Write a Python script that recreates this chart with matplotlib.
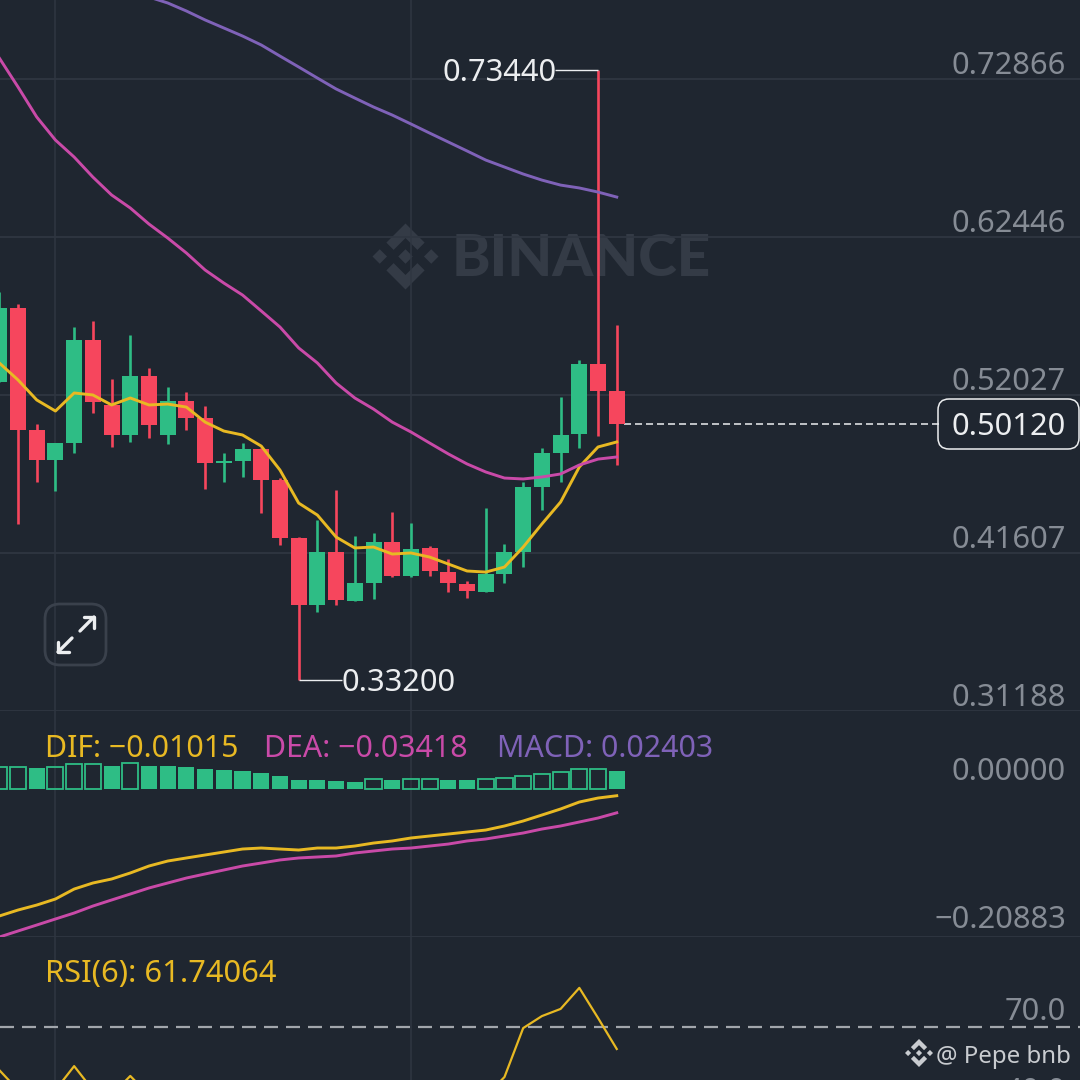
import numpy as np
import matplotlib
matplotlib.use('Agg')
import matplotlib.pyplot as plt
from matplotlib.patches import Polygon, FancyBboxPatch
from matplotlib.transforms import Affine2D

# Candles, oldest first
opens = [0.5288, 0.5776, 0.4972, 0.4774, 0.4886, 0.5565, 0.5137, 0.4939, 0.5328, 0.4939, 0.5163, 0.5051, 0.4754, 0.4767,
         0.4846, 0.4642, 0.4260, 0.3818, 0.4167, 0.3844, 0.3963, 0.4233, 0.4009, 0.4193, 0.4035, 0.3956, 0.3903, 0.4022,
         0.4167, 0.4596, 0.4820, 0.4945, 0.5407, 0.5229]
closes = [0.5776, 0.4972, 0.4774, 0.4886, 0.5565, 0.5156, 0.4939, 0.5328, 0.5005, 0.5163, 0.5051, 0.4754, 0.4767, 0.4846,
          0.4642, 0.4260, 0.3818, 0.4167, 0.3851, 0.3963, 0.4233, 0.4009, 0.4187, 0.4042, 0.3963, 0.3910, 0.4022, 0.4167,
          0.4596, 0.4820, 0.4939, 0.5407, 0.5229, 0.5012]
highs = [0.5882, 0.5803, 0.5012, 0.4886, 0.5651, 0.5691, 0.5308, 0.5598, 0.5381, 0.5255, 0.5222, 0.5130, 0.4820,
         0.4886, 0.4853, 0.4655, 0.4266, 0.4378, 0.4576, 0.4273, 0.4292, 0.4431, 0.4358, 0.4207, 0.4121, 0.3976,
         0.4457, 0.4220, 0.4629, 0.4853, 0.5189, 0.5433, 0.7344, 0.5663]
lows = [0.5288, 0.4352, 0.4629, 0.4570, 0.4820, 0.5084, 0.4860, 0.4893, 0.4919, 0.4879, 0.4972, 0.4583, 0.4629, 0.4662,
        0.4424, 0.4213, 0.3320, 0.3771, 0.3818, 0.3844, 0.3857, 0.4002, 0.4002, 0.4009, 0.3903, 0.3864, 0.3903, 0.3963,
        0.4068, 0.4444, 0.4629, 0.4853, 0.4932, 0.4741]

# Moving averages
ma7 = [0.5414, 0.5302, 0.5170, 0.5097, 0.5216, 0.5203, 0.5137, 0.5183, 0.5137, 0.5143, 0.5123, 0.5024, 0.4965, 0.4939,
       0.4866, 0.4708, 0.4490, 0.4411, 0.4266, 0.4194, 0.4200, 0.4154, 0.4161, 0.4134, 0.4088, 0.4042, 0.4035, 0.4068,
       0.4200, 0.4352, 0.4497, 0.4728, 0.4860, 0.4893]
ma25 = [0.7425, 0.7234, 0.7036, 0.6884, 0.6772, 0.6640, 0.6522, 0.6436, 0.6330, 0.6238, 0.6139, 0.6027, 0.5941, 0.5862,
        0.5757, 0.5651, 0.5513, 0.5414, 0.5282, 0.5183, 0.5110, 0.5024, 0.4959, 0.4886, 0.4814, 0.4748, 0.4695, 0.4655,
        0.4649, 0.4662, 0.4682, 0.4741, 0.4780, 0.4794]
ma99 = [0.7827, 0.7788, 0.7735, 0.7676, 0.7623, 0.7570, 0.7511, 0.7438, 0.7366, 0.7293, 0.7221, 0.7161, 0.7102, 0.7049,
        0.6990, 0.6930, 0.6871, 0.6812, 0.6752, 0.6706, 0.6660, 0.6620, 0.6587, 0.6568, 0.6541, 0.6508]

# MACD pane
hist = [0.0296, 0.0296, 0.0282, 0.0296, 0.0343, 0.0343, 0.0320, 0.0353, 0.0320, 0.0320, 0.0306, 0.0273, 0.0254, 0.0245,
        0.0221, 0.0179, 0.0122, 0.0118, 0.0099, 0.0094, 0.0127, 0.0113, 0.0136, 0.0136, 0.0118, 0.0118, 0.0132, 0.0141,
        0.0179, 0.0202, 0.0235, 0.0268, 0.0268, 0.02403]
hist_hollow = [0, 1, 3, 4, 5, 7, 20, 22, 23, 26, 27, 28, 29, 30, 31, 32]
dif = [-0.1793, -0.1709, -0.1639, -0.1554, -0.1414, -0.1329, -0.1273, -0.1188, -0.1090, -0.1020, -0.0977, -0.0935,
       -0.0893, -0.0851, -0.0837, -0.0851, -0.0865, -0.0837, -0.0837, -0.0809, -0.0767, -0.0738, -0.0696, -0.0668,
       -0.0640, -0.0612, -0.0584, -0.0527, -0.0457, -0.0373, -0.0288, -0.0190, -0.0134, -0.01015]
dea = [-0.2089, -0.2004, -0.1920, -0.1835, -0.1751, -0.1653, -0.1568, -0.1484, -0.1399, -0.1329, -0.1259, -0.1202,
       -0.1146, -0.1090, -0.1048, -0.1005, -0.0977, -0.0963, -0.0949, -0.0907, -0.0879, -0.0851, -0.0837, -0.0809,
       -0.0781, -0.0738, -0.0710, -0.0668, -0.0626, -0.0570, -0.0527, -0.0471, -0.0415, -0.03418]

# RSI pane, most of it runs off the bottom of the screenshot
rsi = [53.8, 46.3, 42.6, 46.3, 55.3, 46.3, 44.4, 51.6, 44.4, 42.6, 43, 33, 34, 37, 30, 25, 20, 31, 29, 33, 40, 37, 40,
       37, 33, 31, 44, 51.2, 69.6, 74.1, 76.8, 84.7, 73.4, 61.74]

price_ticks = [0.72866, 0.62446, 0.52027, 0.41607, 0.31188]
price_tick_labels = ['0.72866', '0.62446', '0.52027', '0.41607', '0.31188']
macd_ticks = [0.0, -0.20883]
macd_tick_labels = ['0.00000', '\u22120.20883']
rsi_ticks = [70.0, 40.0]
rsi_tick_labels = ['70.0', '40.0']
grid_candles = [3, 22]

BG = '#1f2630'
GRID = '#2f3641'
GREEN = '#2ebd85'
RED = '#f6465d'
YELLOW = '#e8b923'
PINK = '#c94aa8'
PURPLE = '#7f62b8'
AXIS_TEXT = '#868c95'
WHITE = '#eceef0'
WATERMARK = '#343b46'
FS = 22.2

plt.rcParams['font.family'] = ['Noto Sans', 'DejaVu Sans']

fig = plt.figure(figsize=(10.8, 10.8), dpi=100, facecolor=BG)
H = 1080.0


def make_pane(top, bottom, ylim):
    ax = fig.add_axes([0, 1 - bottom / H, 1, (bottom - top) / H])
    ax.patch.set_visible(False)
    ax.set_xlim(0.037, 57.76)
    ax.set_ylim(*ylim)
    for spine in ax.spines.values():
        spine.set_visible(False)
    ax.set_xticks([])
    ax.set_yticks([])
    for c in grid_candles:
        ax.axvline(c, color=GRID, lw=1.1, zorder=0)
    return ax


def right_labels(ax, ticks, labels, line=True, dy=-1.5):
    for t, lab in zip(ticks, labels):
        if line:
            ax.axhline(t, color=GRID, lw=1.3, zorder=0)
        ax.annotate(lab, xy=(1, t), xycoords=('axes fraction', 'data'), xytext=(-10, dy),
                    textcoords='offset points', ha='right', va='bottom', color=AXIS_TEXT, fontsize=FS,
                    annotation_clip=False)


def binance_logo(cx, cy, r, color):
    # drawn in screen pixels, y going down
    tr = Affine2D().scale(r, -r).translate(cx, H - cy)
    d = 0.22
    shapes = [
        [(0, -d), (d, 0), (0, d), (-d, 0)],
        [(-0.78, -d), (-0.78 + d, 0), (-0.78, d), (-0.78 - d, 0)],
        [(0.78, -d), (0.78 + d, 0), (0.78, d), (0.78 - d, 0)],
        [(0, -1), (0.58, -0.42), (0.36, -0.2), (0, -0.56), (-0.36, -0.2), (-0.58, -0.42)],
        [(0, 1), (0.58, 0.42), (0.36, 0.2), (0, 0.56), (-0.36, 0.2), (-0.58, 0.42)],
    ]
    for pts in shapes:
        fig.add_artist(Polygon(pts, closed=True, facecolor=color, edgecolor='none', transform=tr, zorder=-1))


# Panes
ax_price = make_pane(0, 711, (0.31188, 0.78076))
ax_macd = make_pane(711, 937, (-0.20883, 0.1090))
ax_rsi = make_pane(937, 1080, (50.08, 103.83))
ax_price.set_zorder(1)
ax_macd.set_zorder(1)

# Watermark
binance_logo(405.5, 256.5, 33, WATERMARK)
fig.text(452 / H, 1 - 259 / H, 'BINANCE', color=WATERMARK, fontsize=42, fontfamily='Lato', fontweight='black',
         ha='left', va='center', zorder=-1)

# Candles
x = np.arange(len(opens))
o = np.array(opens)
c = np.array(closes)
colors = [GREEN if b >= a else RED for a, b in zip(opens, closes)]
ax_price.vlines(x, lows, highs, colors=colors, lw=1.9, zorder=2)
ax_price.bar(x, np.maximum(np.abs(c - o), 0.0008), bottom=np.minimum(o, c), width=0.855, color=colors, zorder=3)

ax_price.plot(x, ma7, color=YELLOW, lw=2.1, zorder=4)
ax_price.plot(x, ma25, color=PINK, lw=2.1, zorder=4)
ax_price.plot(x[8:], ma99, color=PURPLE, lw=2.1, zorder=4)

right_labels(ax_price, price_ticks, price_tick_labels)

# High / low leaders
ax_price.hlines(highs[32], 32 - 2.3, 32, colors=WHITE, lw=1, zorder=2)
ax_price.annotate('0.73440', xy=(32 - 2.3, highs[32]), xytext=(1, -2), textcoords='offset points', ha='right',
                  va='center', color=WHITE, fontsize=FS)
ax_price.hlines(lows[16], 16, 16 + 2.3, colors=WHITE, lw=1, zorder=2)
ax_price.annotate('0.33200', xy=(16 + 2.3, lows[16]), xytext=(0, -2), textcoords='offset points', ha='left',
                  va='center', color=WHITE, fontsize=FS)

# Last price
ax_price.hlines(closes[-1], 33.4, 50.2, colors=WHITE, lw=1.1, linestyles=(0, (4.6, 2.6)), zorder=2)
px = Affine2D().scale(1, -1).translate(0, H)
fig.add_artist(FancyBboxPatch((938, 399), 141, 50, boxstyle='round,pad=0,rounding_size=11', facecolor=BG,
                              edgecolor=WHITE, lw=1.1, transform=px, zorder=0.5))
ax_price.annotate('0.50120', xy=(1, closes[-1]), xycoords=('axes fraction', 'data'), xytext=(-10, -2),
                  textcoords='offset points', ha='right', va='center', color=WHITE, fontsize=FS, zorder=6)

# Expand button
fig.add_artist(FancyBboxPatch((45, 604), 61, 61, boxstyle='round,pad=0,rounding_size=15', facecolor='none',
                              edgecolor='#3a414c', lw=2, transform=px, zorder=2))
arrow_kw = dict(color=WHITE, lw=2.4, transform=px, solid_capstyle='round', zorder=3)
for xs, ys in (([80, 94], [631, 617]), ([84, 94, 94], [617, 617, 628]),
               ([72, 58], [638, 652]), ([58, 58, 69], [642, 652, 652])):
    fig.add_artist(plt.Line2D(xs, ys, **arrow_kw))

# MACD pane
for i, v in enumerate(hist):
    if i in hist_hollow:
        ax_macd.bar(i, v, width=0.86, bottom=0, facecolor='none', edgecolor=GREEN, lw=1.3, zorder=2)
    else:
        ax_macd.bar(i, v, width=0.86, bottom=0, color=GREEN, zorder=2)
ax_macd.plot(x, dif, color=YELLOW, lw=2.1, zorder=3)
ax_macd.plot(x, dea, color=PINK, lw=2.1, zorder=3)
right_labels(ax_macd, [macd_ticks[1]], [macd_tick_labels[1]], dy=1.5)
right_labels(ax_macd, [macd_ticks[0]], [macd_tick_labels[0]], line=False, dy=1)

fig.text(45 / H, 1 - 749 / H, 'DIF: \u22120.01015', color=YELLOW, fontsize=21.8, va='center')
fig.text(264 / H, 1 - 749 / H, 'DEA: \u22120.03418', color=PINK, fontsize=21.8, va='center')
fig.text(497 / H, 1 - 749 / H, 'MACD: 0.02403', color=PURPLE, fontsize=21.8, va='center')

# RSI pane
ax_rsi.plot(x, rsi, color=YELLOW, lw=1.6, zorder=3)
ax_rsi.axhline(70, color='#a2a6ac', lw=1.6, linestyle=(0, (6.3, 3.6)), zorder=1)
right_labels(ax_rsi, rsi_ticks, rsi_tick_labels, line=False, dy=0)
fig.text(45 / H, 1 - 974 / H, 'RSI(6): 61.74064', color=YELLOW, fontsize=FS, va='center')

# Author tag
binance_logo(919, 1053, 14, '#c9ccd0')
fig.text(1071 / H, 1 - 1057 / H, '@ Pepe bnb', color='#c9ccd0', fontsize=17.3, ha='right', va='center', zorder=5)

fig.savefig('out.png', dpi=100, facecolor=BG)
